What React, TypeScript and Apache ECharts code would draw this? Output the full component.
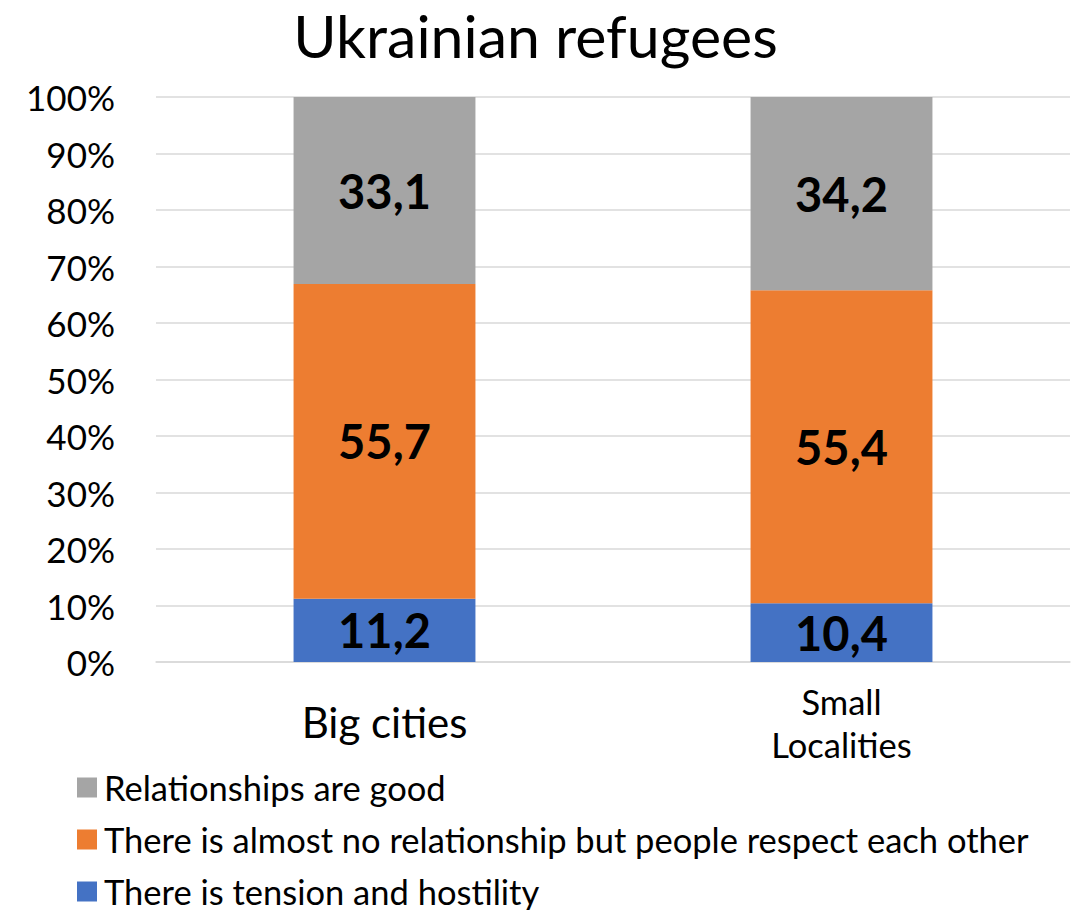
import React, { useEffect, useRef } from "react";
import * as echarts from "echarts";

const categories = ["Big cities", "Small\nLocalities"];
const tensionValues = [11.2, 10.4];
const respectValues = [55.7, 55.4];
const goodValues = [33.1, 34.2];
const seriesNames = [
  "Relationships are good",
  "There is almost no relationship but people respect each other",
  "There is tension and hostility",
];
const FONT = "Lato, 'Open Sans', sans-serif";

export default function App() {
  const ref = useRef<HTMLDivElement>(null);
  useEffect(() => {
    if (!ref.current) return;
    const chart = echarts.init(ref.current, null, { renderer: "svg" });
    const labelStyle = {
      show: true,
      position: "inside",
      fontSize: 47,
      fontWeight: "bold",
      color: "#000",
      fontFamily: FONT,
      formatter: (p: any) => String(p.value).replace(".", ","),
    };
    const legendTops = [765, 817, 869];
    chart.setOption({
      animation: false,
      textStyle: { fontFamily: FONT },
      title: {
        text: "Ukrainian refugees",
        left: "center",
        top: 0,
        padding: 0,
        textStyle: { fontSize: 59, lineHeight: 70, fontWeight: "normal", color: "#000", fontFamily: FONT },
      },
      grid: { left: 156, right: 1, top: 97, bottom: 248, containLabel: false },
      legend: seriesNames.map((name, i) => ({
        orient: "vertical",
        left: 72,
        top: legendTops[i],
        itemWidth: 20,
        itemHeight: 20,
        icon: "rect",
        data: [name],
        textStyle: { fontSize: 34.5, color: "#000", fontFamily: FONT, lineHeight: 34, padding: [0, 0, 0, 2] },
      })),
      xAxis: {
        type: "category",
        data: [
          { value: categories[0], textStyle: { fontSize: 42, lineHeight: 42, padding: [21, 0, 0, 0] } },
          { value: categories[1], textStyle: { fontSize: 34.5, lineHeight: 43 } },
        ],
        axisTick: { show: false },
        axisLine: { lineStyle: { color: "#D9D9D9", width: 1.5 } },
        axisLabel: { color: "#000", margin: 18, fontFamily: FONT },
      },
      yAxis: {
        type: "value",
        min: 0,
        max: 100,
        interval: 10,
        axisLabel: { formatter: "{value}%", fontSize: 35, color: "#000", margin: 41, fontFamily: FONT },
        splitLine: { lineStyle: { color: "#D9D9D9", width: 1.5 } },
      },
      series: [
        {
          name: seriesNames[2],
          type: "bar",
          stack: "all",
          barWidth: "39.8%",
          data: tensionValues,
          itemStyle: { color: "#4472C4" },
          label: labelStyle,
        },
        {
          name: seriesNames[1],
          type: "bar",
          stack: "all",
          data: respectValues,
          itemStyle: { color: "#ED7D31" },
          label: labelStyle,
        },
        {
          name: seriesNames[0],
          type: "bar",
          stack: "all",
          data: goodValues,
          itemStyle: { color: "#A5A5A5" },
          label: labelStyle,
        },
      ],
    });
    return () => chart.dispose();
  }, []);
  return <div ref={ref} style={{ width: 1071, height: 910, position: "absolute", left: 0, top: 0 }} />;
}
